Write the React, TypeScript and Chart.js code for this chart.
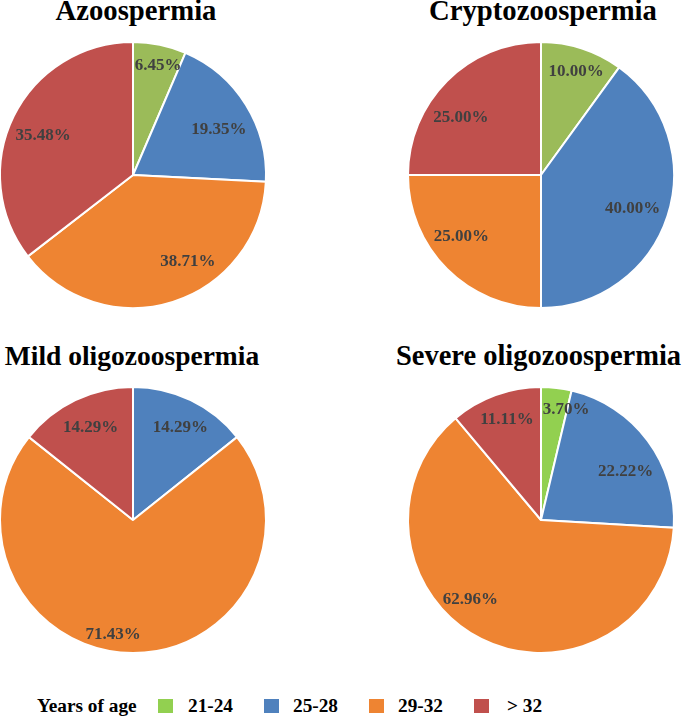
import React, { useEffect, useRef } from "react";
import { Chart, registerables } from "chart.js";

Chart.register(...registerables);

// ---- data ----
const ageGroups = ["21-24", "25-28", "29-32", "> 32"];
const azoospermia = [6.45, 19.35, 38.71, 35.48];
const cryptozoospermia = [10.0, 40.0, 25.0, 25.0];
const mildOligozoospermia = [0, 14.29, 71.43, 14.29];
const severeOligozoospermia = [3.7, 22.22, 62.96, 11.11];
const chartTitles = ["Azoospermia", "Cryptozoospermia", "Mild oligozoospermia", "Severe oligozoospermia"];
const legendTitle = "Years of age";

// ---- styles ----
const SERIF = "'Liberation Serif', 'Times New Roman', Times, serif";
const GREEN_A = "#9BBB59";
const GREEN_B = "#92D050";
const BLUE = "#4F81BD";
const ORANGE = "#EE8432";
const RED = "#C0504D";
const LABEL_COLOR = "#404040";

const pctLabels = {
  id: "pctLabels",
  afterDatasetsDraw(chart: any, _args: any, opts: any) {
    const ctx = chart.ctx;
    const meta = chart.getDatasetMeta(0);
    const data = chart.data.datasets[0].data as number[];
    ctx.save();
    ctx.font = `bold 17px ${SERIF}`;
    ctx.fillStyle = LABEL_COLOR;
    ctx.textAlign = "center";
    ctx.textBaseline = "alphabetic";
    meta.data.forEach((arc: any, i: number) => {
      const v = data[i];
      if (!v) return;
      const p = arc.getProps(["x", "y", "startAngle", "endAngle", "outerRadius"], true);
      const a = (p.startAngle + p.endAngle) / 2 + ((opts.shift?.[i] || 0) * Math.PI) / 180;
      const r = p.outerRadius * (opts.frac?.[i] ?? 0.75);
      ctx.fillText(v.toFixed(2) + "%", p.x + Math.cos(a) * r, p.y + Math.sin(a) * r + 6);
    });
    ctx.restore();
  },
};

const SIZE = 280;

function PieChart(props: {
  values: number[];
  colors: string[];
  cx: number;
  cy: number;
  shift: number[];
  frac: number[];
}) {
  const ref = useRef<HTMLCanvasElement | null>(null);
  useEffect(() => {
    const chart = new Chart(ref.current as HTMLCanvasElement, {
      type: "pie",
      data: {
        labels: ageGroups,
        datasets: [
          {
            data: props.values,
            backgroundColor: props.colors,
            borderColor: "#ffffff",
            borderWidth: 2,
            radius: 133,
          } as any,
        ],
      },
      options: {
        responsive: false,
        animation: false,
        layout: { padding: 0 },
        events: [],
        plugins: {
          legend: { display: false },
          tooltip: { enabled: false },
          pctLabels: { shift: props.shift, frac: props.frac },
        } as any,
      },
      plugins: [pctLabels],
    });
    return () => chart.destroy();
  }, []);
  return (
    <canvas
      ref={ref}
      width={SIZE}
      height={SIZE}
      style={{ position: "absolute", left: props.cx - SIZE / 2, top: props.cy - SIZE / 2, width: SIZE, height: SIZE }}
    />
  );
}

function Title(props: { text: string; cx: number; top: number; size: number }) {
  return (
    <div
      style={{
        position: "absolute",
        left: props.cx - 200,
        width: 400,
        top: props.top,
        textAlign: "center",
        fontFamily: SERIF,
        fontWeight: "bold",
        fontSize: props.size,
        lineHeight: `${props.size}px`,
        color: "#000",
        whiteSpace: "nowrap",
      }}
    >
      {props.text}
    </div>
  );
}

export default function App() {
  useEffect(() => {
    document.body.style.margin = "0";
  }, []);

  const legendColors = [GREEN_B, BLUE, ORANGE, RED];
  const legendBoxX = [158, 264, 369, 474];
  const legendTextX = [188, 293, 398, 507];

  return (
    <div style={{ position: "relative", width: 685, height: 717, overflow: "hidden", background: "#fff" }}>
      <PieChart
        values={azoospermia}
        colors={[GREEN_A, BLUE, ORANGE, RED]}
        cx={133}
        cy={175}
        shift={[1.1, 3.5, -15.5, -1.5]}
        frac={[0.857, 0.735, 0.76, 0.744]}
      />
      <PieChart
        values={cryptozoospermia}
        colors={[GREEN_A, BLUE, ORANGE, RED]}
        cx={541}
        cy={175}
        shift={[0.6, 1.3, 8, -8.4]}
        frac={[0.83, 0.73, 0.75, 0.75]}
      />
      <PieChart
        values={mildOligozoospermia}
        colors={[GREEN_A, BLUE, ORANGE, RED]}
        cx={133}
        cy={520}
        shift={[0, 1.1, 10, 1.4]}
        frac={[0.8, 0.79, 0.86, 0.775]}
      />
      <PieChart
        values={severeOligozoospermia}
        colors={[GREEN_B, BLUE, ORANGE, RED]}
        cx={541}
        cy={520}
        shift={[6.0, 6.1, 15.5, 1.6]}
        frac={[0.86, 0.74, 0.79, 0.81]}
      />

      <Title text={chartTitles[0]} cx={136} top={-4} size={28.7} />
      <Title text={chartTitles[1]} cx={543} top={-4} size={28.7} />
      <Title text={chartTitles[2]} cx={132} top={342} size={27.5} />
      <Title text={chartTitles[3]} cx={538.5} top={342} size={28.5} />

      <div
        style={{
          position: "absolute",
          left: 37,
          top: 696,
          fontFamily: SERIF,
          fontWeight: "bold",
          fontSize: 19.3,
          lineHeight: "19px",
          whiteSpace: "nowrap",
        }}
      >
        {legendTitle}
      </div>
      {ageGroups.map((g, i) => (
        <React.Fragment key={g}>
          <div
            style={{
              position: "absolute",
              left: legendBoxX[i],
              top: 699,
              width: 15,
              height: 14,
              background: legendColors[i],
            }}
          />
          <div
            style={{
              position: "absolute",
              left: legendTextX[i],
              top: 696,
              fontFamily: SERIF,
              fontWeight: "bold",
              fontSize: 19.3,
              lineHeight: "19px",
              whiteSpace: "nowrap",
            }}
          >
            {g}
          </div>
        </React.Fragment>
      ))}
    </div>
  );
}
